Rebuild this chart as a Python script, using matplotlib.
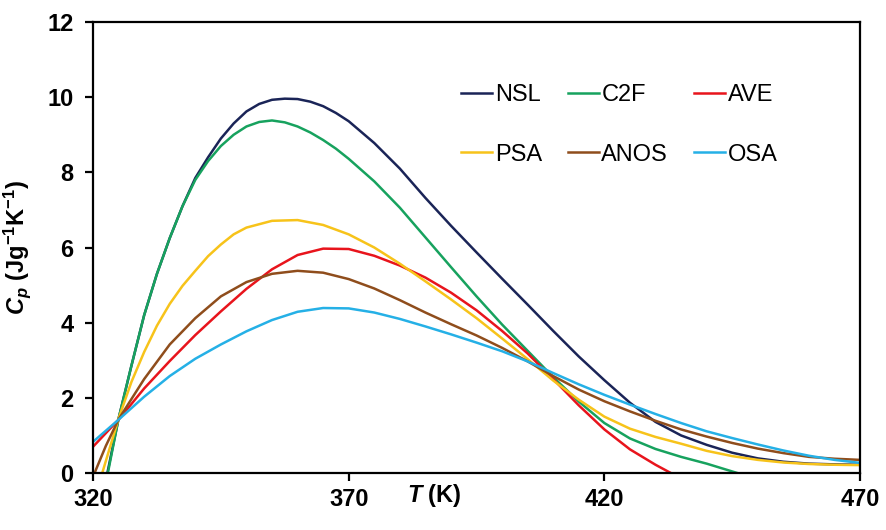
import matplotlib.pyplot as plt

plt.rcParams["font.family"] = ["Liberation Sans", "DejaVu Sans"]
plt.rcParams["mathtext.fontset"] = "custom"
plt.rcParams["mathtext.rm"] = "Liberation Sans:bold"
plt.rcParams["mathtext.it"] = "Liberation Sans:italic:bold"
plt.rcParams["mathtext.bf"] = "Liberation Sans:bold"

# Data (T in K, Cp in J g^-1 K^-1)
t_nsl = [322.8, 325, 327.5, 330, 332.5, 335, 337.5, 340, 342.5, 345, 347.5, 350, 352.5, 355, 357.5, 360,
         362.5, 365, 367.5, 370, 375, 380, 385, 390, 395, 400, 405, 410, 415, 420, 425, 430, 435, 440,
         445, 450, 455, 460, 465, 470]
cp_nsl = [0, 1.45, 2.85, 4.2, 5.3, 6.25, 7.1, 7.85, 8.4, 8.9, 9.3, 9.62, 9.82, 9.93, 9.96, 9.95,
          9.88, 9.76, 9.58, 9.36, 8.78, 8.1, 7.32, 6.58, 5.87, 5.17, 4.48, 3.78, 3.1, 2.47, 1.87, 1.36,
          1.0, 0.75, 0.54, 0.39, 0.3, 0.25, 0.23, 0.22]

t_c2f = [322.9, 325, 327.5, 330, 332.5, 335, 337.5, 340, 342.5, 345, 347.5, 350, 352.5, 355, 357.5, 360,
         362.5, 365, 367.5, 370, 375, 380, 385, 390, 395, 400, 405, 410, 415, 420, 425, 430, 435, 440, 446]
cp_c2f = [0, 1.45, 2.85, 4.2, 5.3, 6.25, 7.1, 7.8, 8.3, 8.7, 9.0, 9.22, 9.34, 9.38, 9.33, 9.22,
          9.06, 8.86, 8.63, 8.36, 7.76, 7.06, 6.27, 5.48, 4.7, 3.95, 3.25, 2.55, 1.9, 1.33, 0.92, 0.64,
          0.43, 0.25, 0]

t_ave = [320, 325, 330, 335, 340, 345, 350, 355, 360, 365, 370, 375, 380, 385, 390, 395, 400, 405,
         410, 415, 420, 425, 430, 433]
cp_ave = [0.7, 1.42, 2.25, 2.98, 3.67, 4.3, 4.9, 5.42, 5.8, 5.97, 5.96, 5.78, 5.52, 5.2, 4.8, 4.33,
          3.78, 3.18, 2.5, 1.8, 1.16, 0.63, 0.22, 0]

t_psa = [321.8, 325, 327.5, 330, 332.5, 335, 337.5, 340, 342.5, 345, 347.5, 350, 355, 360, 365, 370,
         375, 380, 385, 390, 395, 400, 405, 410, 415, 420, 425, 430, 435, 440, 445, 450, 455, 460, 465,
         470]
cp_psa = [0, 1.45, 2.42, 3.22, 3.92, 4.5, 4.98, 5.38, 5.77, 6.08, 6.35, 6.53, 6.71, 6.73, 6.6, 6.35,
          6.0, 5.57, 5.1, 4.62, 4.12, 3.58, 3.03, 2.46, 1.95, 1.5, 1.18, 0.96, 0.78, 0.59, 0.45, 0.35,
          0.28, 0.24, 0.22, 0.21]

t_anos = [320.3, 322.5, 325, 330, 335, 340, 345, 350, 355, 360, 365, 370, 375, 380, 385, 390, 395, 400,
          405, 410, 415, 420, 425, 430, 435, 440, 445, 450, 455, 460, 465, 470]
cp_anos = [0, 0.72, 1.43, 2.5, 3.42, 4.12, 4.7, 5.08, 5.3, 5.38, 5.33, 5.16, 4.91, 4.6, 4.27, 3.96, 3.66,
           3.33, 2.97, 2.58, 2.22, 1.91, 1.64, 1.39, 1.16, 0.97, 0.8, 0.65, 0.53, 0.43, 0.38, 0.35]

t_osa = [320, 325, 330, 335, 340, 345, 350, 355, 360, 365, 370, 375, 380, 385, 390, 395, 400, 405,
         410, 415, 420, 425, 430, 435, 440, 445, 450, 455, 460, 465, 470]
cp_osa = [0.83, 1.42, 2.03, 2.58, 3.04, 3.42, 3.77, 4.07, 4.29, 4.39, 4.38, 4.27, 4.1, 3.9, 3.69, 3.47,
          3.24, 2.97, 2.66, 2.36, 2.08, 1.82, 1.57, 1.33, 1.11, 0.93, 0.76, 0.6, 0.46, 0.35, 0.27]

x_ticks = [320, 370, 420, 470]
y_ticks = [0, 2, 4, 6, 8, 10, 12]

fig = plt.figure(figsize=(8.86, 5.30), dpi=100)
ax = fig.add_axes([0.105, 0.1075, 0.8657, 0.851])

lw = 1.8
l_nsl, = ax.plot(t_nsl, cp_nsl, color="#1a2457", lw=lw, label="NSL")
l_c2f, = ax.plot(t_c2f, cp_c2f, color="#17a25e", lw=lw, label="C2F")
l_ave, = ax.plot(t_ave, cp_ave, color="#e8141c", lw=lw, label="AVE")
l_psa, = ax.plot(t_psa, cp_psa, color="#f7c31a", lw=lw, label="PSA")
l_anos, = ax.plot(t_anos, cp_anos, color="#8f4d1c", lw=lw, label="ANOS")
l_osa, = ax.plot(t_osa, cp_osa, color="#25b0e6", lw=lw, label="OSA")

ax.set_xlim(320, 470)
ax.set_ylim(0, 12)
ax.set_xticks(x_ticks)
ax.set_yticks(y_ticks)
for s in ax.spines.values():
    s.set_linewidth(1.6)
ax.tick_params(direction="out", length=6, width=1.6, labelsize=17)
ax.tick_params(axis="x", pad=5)
ax.tick_params(axis="y", pad=8)
for lab in ax.get_xticklabels() + ax.get_yticklabels():
    lab.set_fontweight("bold")

ax.set_ylabel(r"$C_p$ (Jg$^{-1}$K$^{-1}$)", fontsize=17, fontweight="bold", labelpad=10)
ax.set_xlabel(r"$T$ (K)", fontsize=17, fontweight="bold")
ax.xaxis.set_label_coords(0.445, -0.02)

# column-major order so rows read NSL C2F AVE / PSA ANOS OSA
ax.legend(handles=[l_nsl, l_psa, l_c2f, l_anos, l_ave, l_osa], ncol=3, frameon=False,
          fontsize=17, loc="upper left", bbox_to_anchor=(0.48, 0.863), borderaxespad=0,
          borderpad=0, handlelength=1.3, handletextpad=0.12, columnspacing=1.1,
          labelspacing=1.6)

fig.savefig("out.png", dpi=100)
